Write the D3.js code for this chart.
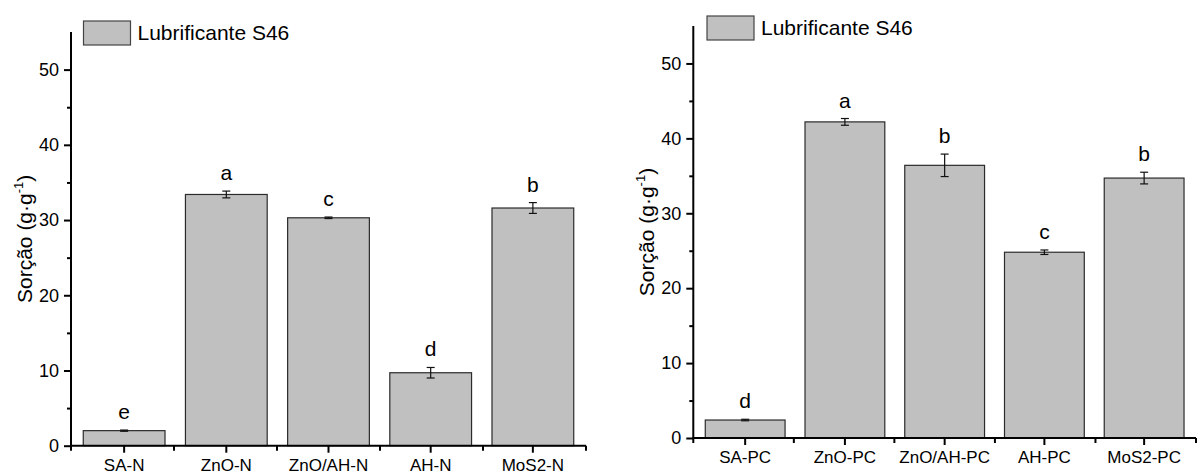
<!DOCTYPE html>
<html>
<head>
<meta charset="utf-8">
<script src="https://cdn.jsdelivr.net/npm/d3@7"></script>
<style>
  html, body { margin: 0; padding: 0; background: #fff; }
  svg { display: block; font-family: "Liberation Sans", Arial, sans-serif; }
</style>
</head>
<body>
<svg id="chart" width="1197" height="475"></svg>
<script>
// Sorption of lubricant S46 by each sorbent (g/g), mean ± deviation, with Tukey letters
const categoriesN = ["SA-N", "ZnO-N", "ZnO/AH-N", "AH-N", "MoS2-N"];
const valuesN     = [2.0, 33.4, 30.3, 9.7, 31.6];
const errorsN     = [0.08, 0.45, 0.1, 0.7, 0.72];
const lettersN    = ["e", "a", "c", "d", "b"];

const categoriesPC = ["SA-PC", "ZnO-PC", "ZnO/AH-PC", "AH-PC", "MoS2-PC"];
const valuesPC     = [2.4, 42.2, 36.4, 24.8, 34.7];
const errorsPC     = [0.1, 0.45, 1.5, 0.3, 0.78];
const lettersPC    = ["d", "a", "b", "c", "b"];

const yTicks      = [0, 10, 20, 30, 40, 50];
const yMinorTicks = [5, 15, 25, 35, 45];
const legendLabel = "Lubrificante S46";

const svg = d3.select("#chart");

function drawPanel(cfg) {
  const { left, right, top, bottom, cats, vals, errs, letters, labelX, legendX, legendY } = cfg;
  const g = svg.append("g");

  const x = d3.scaleBand().domain(cats).range([left, right]).paddingInner(0.2).paddingOuter(0.12);
  const y = d3.scaleLinear().domain([0, 55]).range([bottom, top]);

  // bars
  g.selectAll("rect.bar").data(cats).join("rect")
    .attr("class", "bar")
    .attr("x", d => x(d))
    .attr("y", (d, i) => y(vals[i]))
    .attr("width", x.bandwidth())
    .attr("height", (d, i) => y(0) - y(vals[i]))
    .attr("fill", "#c0c0c0")
    .attr("stroke", "#2b2b2b")
    .attr("stroke-width", 1.2);

  // error bars
  const cap = 4;
  const eb = g.selectAll("g.err").data(cats).join("g").attr("class", "err")
    .attr("stroke", "#111").attr("stroke-width", 1.2);
  eb.append("line")
    .attr("x1", d => x(d) + x.bandwidth() / 2).attr("x2", d => x(d) + x.bandwidth() / 2)
    .attr("y1", (d, i) => y(vals[i] - errs[i])).attr("y2", (d, i) => y(vals[i] + errs[i]));
  eb.append("line")
    .attr("x1", d => x(d) + x.bandwidth() / 2 - cap).attr("x2", d => x(d) + x.bandwidth() / 2 + cap)
    .attr("y1", (d, i) => y(vals[i] + errs[i])).attr("y2", (d, i) => y(vals[i] + errs[i]));
  eb.append("line")
    .attr("x1", d => x(d) + x.bandwidth() / 2 - cap).attr("x2", d => x(d) + x.bandwidth() / 2 + cap)
    .attr("y1", (d, i) => y(vals[i] - errs[i])).attr("y2", (d, i) => y(vals[i] - errs[i]));

  // significance letters
  g.selectAll("text.letter").data(cats).join("text")
    .attr("class", "letter")
    .attr("x", d => x(d) + x.bandwidth() / 2)
    .attr("y", (d, i) => y(vals[i] + errs[i]) - 11)
    .attr("text-anchor", "middle")
    .attr("font-size", 21)
    .attr("fill", "#000")
    .text((d, i) => letters[i]);

  // y axis: major ticks with labels, minor ticks without
  const yAxis = d3.axisLeft(y).tickValues(yTicks).tickSize(7).tickPadding(5).tickSizeOuter(0);
  const ya = g.append("g").attr("transform", `translate(${left},0)`).call(yAxis);
  ya.select(".domain").remove();
  ya.selectAll(".tick line").attr("stroke", "#000").attr("stroke-width", 2);
  ya.selectAll(".tick text").attr("font-size", 18).attr("fill", "#000")
    .attr("font-family", "Liberation Sans, Arial, sans-serif");
  const yMinor = d3.axisLeft(y).tickValues(yMinorTicks).tickSize(4).tickFormat("");
  const ym = g.append("g").attr("transform", `translate(${left},0)`).call(yMinor);
  ym.select(".domain").remove();
  ym.selectAll(".tick line").attr("stroke", "#000").attr("stroke-width", 2);
  g.append("line")
    .attr("x1", left).attr("x2", left).attr("y1", y(55)).attr("y2", y(0) + 5)
    .attr("stroke", "#000").attr("stroke-width", 2);

  // x axis: ticks at category centres with labels, small ticks at band boundaries
  const xAxis = d3.axisBottom(x).tickSize(7).tickPadding(6).tickSizeOuter(0);
  const xa = g.append("g").attr("transform", `translate(0,${bottom})`).call(xAxis);
  xa.select(".domain").remove();
  xa.selectAll(".tick line").attr("stroke", "#000").attr("stroke-width", 2);
  xa.selectAll(".tick text").attr("font-size", 17).attr("fill", "#000")
    .attr("font-family", "Liberation Sans, Arial, sans-serif");
  const bounds = d3.range(1, cats.length + 1).map(i => left + (right - left) * i / cats.length);
  g.selectAll("line.xminor").data(bounds).join("line")
    .attr("class", "xminor")
    .attr("x1", d => d).attr("x2", d => d)
    .attr("y1", bottom).attr("y2", bottom + 5)
    .attr("stroke", "#000").attr("stroke-width", 2);
  g.append("line")
    .attr("x1", left - 1).attr("x2", right).attr("y1", bottom).attr("y2", bottom)
    .attr("stroke", "#000").attr("stroke-width", 2);

  // y axis title
  const yt = g.append("text")
    .attr("transform", `translate(${labelX},${(y(0) + y(55)) / 2}) rotate(-90)`)
    .attr("text-anchor", "middle")
    .attr("font-size", 21)
    .attr("fill", "#000");
  yt.append("tspan").text("Sorção (g·g");
  yt.append("tspan").attr("font-size", 13).attr("dy", -9).text("-1");
  yt.append("tspan").attr("dy", 9).text(")");

  // legend
  g.append("rect")
    .attr("x", legendX).attr("y", legendY).attr("width", 47).attr("height", 24)
    .attr("fill", "#c0c0c0").attr("stroke", "#444").attr("stroke-width", 1.2);
  g.append("text")
    .attr("x", legendX + 54).attr("y", legendY + 19)
    .attr("font-size", 21).attr("fill", "#000")
    .text(legendLabel);
}

drawPanel({
  left: 71, right: 586, top: 32, bottom: 445.7,
  cats: categoriesN, vals: valuesN, errs: errorsN, letters: lettersN,
  labelX: 32, legendX: 83.5, legendY: 21
});

drawPanel({
  left: 693.3, right: 1196, top: 26, bottom: 438,
  cats: categoriesPC, vals: valuesPC, errs: errorsPC, letters: lettersPC,
  labelX: 654, legendX: 707, legendY: 16
});
</script>
</body>
</html>
